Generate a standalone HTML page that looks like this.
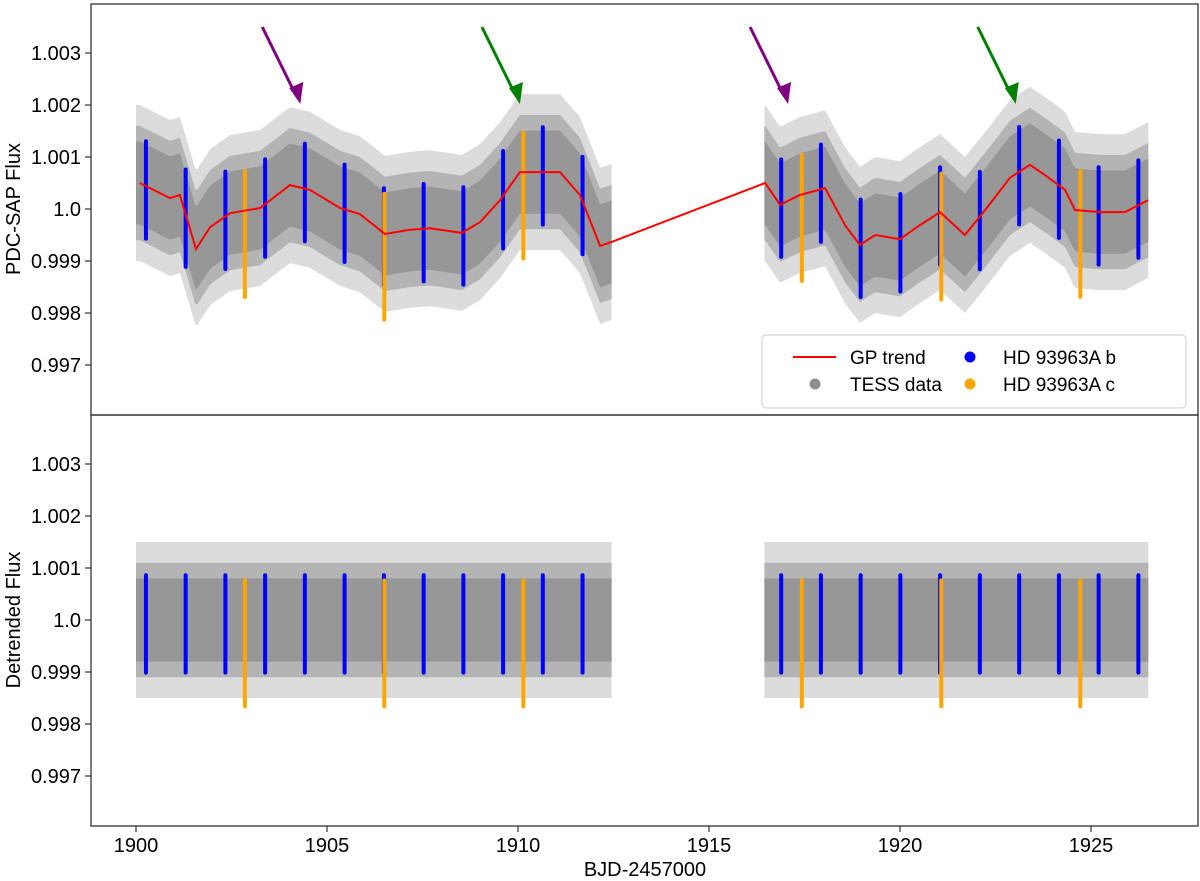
<!DOCTYPE html>
<html><head><meta charset="utf-8"><style>
html,body{margin:0;padding:0;background:#fff}
svg{display:block;font-family:"Liberation Sans","DejaVu Sans",sans-serif}
</style></head><body>
<svg id="chart" width="1200" height="881" viewBox="0 0 1200 881" xmlns="http://www.w3.org/2000/svg"></svg>
<script>
const trendT=[1900.10,1900.89,1901.15,1901.57,1901.94,1902.46,1903.25,1904.03,1904.55,1905.34,1905.86,1906.52,1907.17,1907.70,1908.53,1909.01,1909.53,1910.05,1911.10,1911.62,1912.15,1912.46,1916.47,1916.86,1917.38,1918.04,1918.56,1918.95,1919.35,1920.00,1920.52,1921.05,1921.70,1922.23,1922.88,1923.40,1923.80,1924.32,1924.58,1925.24,1925.89,1926.49];
const trendF=[1.00050,1.00021,1.00027,0.99923,0.99965,0.99992,1.00002,1.00046,1.00037,1.00002,0.99990,0.99952,0.99960,0.99963,0.99954,0.99975,1.00017,1.00071,1.00071,1.00027,0.99929,0.99937,1.00050,1.00008,1.00027,1.00040,0.99969,0.99931,0.99950,0.99942,0.99969,0.99994,0.99950,0.99998,1.00060,1.00085,1.00065,1.00037,0.99998,0.99994,0.99994,1.00017];
const segStarts=[1900.0,1916.45];
const segEnds=[1912.46,1926.52];
const transitB=[1900.26,1901.30,1902.34,1903.38,1904.42,1905.46,1906.49,1907.53,1908.57,1909.61,1910.65,1911.69,1916.89,1917.93,1918.97,1920.01,1921.05,1922.09,1923.12,1924.16,1925.20,1926.24];
const transitC=[1902.85,1906.50,1910.14,1917.43,1921.08,1924.72];
const arrowT=[1904.30,1910.05,1917.07,1923.03];
const arrowColor=['#800080','#008000','#800080','#008000'];
const yTicks=[1.003,1.002,1.001,1.0,0.999,0.998,0.997];
const yTickLabels=['1.003','1.002','1.001','1.0','0.999','0.998','0.997'];
const xTicks=[1900,1905,1910,1915,1920,1925];

const NS='http://www.w3.org/2000/svg';
const svg=document.getElementById('chart');
function el(tag,attrs,parent){const e=document.createElementNS(NS,tag);for(const k in attrs)e.setAttribute(k,attrs[k]);(parent||svg).appendChild(e);return e;}
const L=91,R=1198;
const xs=t=>136+(t-1900)*38.2;
const panels=[{top:4,bot:415,y0:209,name:'top'},{top:415,bot:826,y0:620,name:'bottom'}];
function trendAt(t){
  if(t<=trendT[0])return trendF[0];
  for(let i=1;i<trendT.length;i++){if(t<=trendT[i]){const a=(t-trendT[i-1])/(trendT[i]-trendT[i-1]);return trendF[i-1]+a*(trendF[i]-trendF[i-1]);}}
  return trendF[trendF.length-1];
}
panels.forEach((p,pi)=>{
  const ys=f=>p.y0-(f-1)*52000;
  const g=el('g',{});
  
  
  const base=pi===0?trendAt:(()=>1.0);
  [[0.0015,'#dcdcdc'],[0.0011,'#b4b4b4'],[0.0008,'#979797']].forEach(([w,c])=>{
    for(let s=0;s<segStarts.length;s++){
      let up=[],lo=[];
      for(let t=segStarts[s];t<=segEnds[s]+1e-6;t+=0.05){up.push(xs(t).toFixed(1)+','+ys(base(t)+w).toFixed(1));lo.unshift(xs(t).toFixed(1)+','+ys(base(t)-w).toFixed(1));}
      const poly=el('polygon',{points:up.concat(lo).join(' '),fill:c},g);
      
      
    }
  });
  transitB.forEach(t=>{
    const b=base(t);
    const r=el('rect',{x:xs(t)-2,y:ys(b+0.0009),width:4,height:ys(b-0.00105)-ys(b+0.0009),rx:2,fill:'#0000ff'},g);
    
    
  });
  transitC.forEach(t=>{
    const b=base(t);
    const r=el('rect',{x:xs(t)-2,y:ys(b+0.0008),width:4,height:ys(b-0.0017)-ys(b+0.0008),rx:2,fill:'#ffa500'},g);
    
    
  });
  if(pi===0){
    const pts=trendT.map((t,i)=>xs(t).toFixed(1)+','+ys(trendF[i]).toFixed(1)).join(' ');
    const tl=el('polyline',{points:pts,fill:'none',stroke:'#ff0000','stroke-width':2},g);
    
    
    arrowT.forEach((t,i)=>{
      const x=xs(t),c=arrowColor[i];
      const ln=el('line',{x1:x-38,y1:27,x2:x-5,y2:94,stroke:c,'stroke-width':3},g);
      
      
      const hd=el('polygon',{points:`${x},104 ${x-11},88 ${x+3},82`,fill:c},g);
      
      
    });
  }
  const fr=el('rect',{x:L,y:p.top,width:R-L,height:p.bot-p.top,fill:'none',stroke:'#333','stroke-width':1.3},g);
  
  
  yTicks.forEach((v,i)=>{
    const y=ys(v);
    el('line',{x1:L-6,y1:y,x2:L,y2:y,stroke:'#333','stroke-width':1.2},g);
    const tx=el('text',{x:L-10,y:y+7,'text-anchor':'end','font-size':20,fill:'#000'},g);
    tx.textContent=yTickLabels[i];
    
    
  });
  const yl=el('text',{x:0,y:0,transform:`translate(20,${p.y0}) rotate(-90)`,'text-anchor':'middle','font-size':20,fill:'#000'},g);
  yl.textContent=pi===0?'PDC-SAP Flux':'Detrended Flux';
  
  
});
xTicks.forEach(v=>{
  const x=xs(v);
  el('line',{x1:x,y1:826,x2:x,y2:832,stroke:'#333','stroke-width':1.2});
  const tx=el('text',{x:x,y:852,'text-anchor':'middle','font-size':20,fill:'#000'});
  tx.textContent=String(v);
  
  
});
const xl=el('text',{x:645,y:876,'text-anchor':'middle','font-size':20,fill:'#000'});
xl.textContent='BJD-2457000';


const lg=el('g',{});


el('rect',{x:762,y:335,width:424,height:73,rx:4,fill:'#fff','fill-opacity':0.85,stroke:'#ccc'},lg);
el('line',{x1:793,y1:357,x2:836,y2:357,stroke:'#ff0000','stroke-width':2},lg);
el('circle',{cx:815,cy:384,r:5.5,fill:'#8e8e8e'},lg);
el('circle',{cx:970,cy:357,r:5.5,fill:'#0000ff'},lg);
el('circle',{cx:970,cy:384,r:5.5,fill:'#ffa500'},lg);
[['GP trend',850,364,'legend-entry-gp-trend'],['TESS data',850,391,'legend-entry-tess-data'],['HD 93963A b',1003,364,'legend-entry-planet-b'],['HD 93963A c',1003,391,'legend-entry-planet-c']].forEach(([s,x,y,n])=>{
  const t=el('text',{x:x,y:y,'font-size':19,fill:'#000'},lg);
  t.textContent=s;
  
  
});
</script>
</body></html>
